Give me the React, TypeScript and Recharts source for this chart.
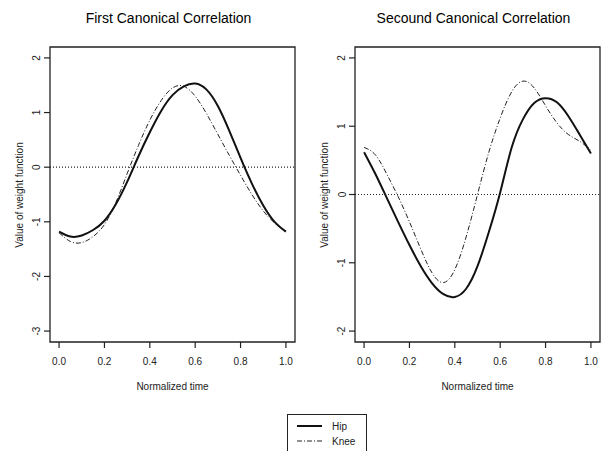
import { LineChart, Line, XAxis, YAxis, ReferenceLine, ReferenceArea, Label } from "recharts"

// normalized time grid and weight functions
const times = [0, 0.05, 0.1, 0.15, 0.2, 0.25, 0.3, 0.35, 0.4, 0.45, 0.5, 0.55, 0.6, 0.65, 0.7, 0.75, 0.8, 0.85, 0.9, 0.95, 1]
const firstHip = [-1.18, -1.27, -1.25, -1.15, -0.98, -0.68, -0.27, 0.2, 0.64, 1.03, 1.32, 1.48, 1.53, 1.42, 1.12, 0.67, 0.17, -0.3, -0.7, -1.0, -1.18]
const firstKnee = [-1.2, -1.36, -1.38, -1.27, -1.05, -0.65, -0.12, 0.4, 0.86, 1.22, 1.45, 1.48, 1.3, 0.98, 0.6, 0.22, -0.15, -0.5, -0.8, -1.02, -1.18]
const secondHip = [0.62, 0.3, -0.05, -0.4, -0.74, -1.05, -1.3, -1.46, -1.5, -1.38, -1.05, -0.55, 0.03, 0.68, 1.1, 1.34, 1.41, 1.35, 1.15, 0.88, 0.6]
const secondKnee = [0.69, 0.58, 0.3, -0.03, -0.4, -0.8, -1.15, -1.29, -1.1, -0.62, 0.0, 0.62, 1.12, 1.5, 1.66, 1.56, 1.3, 1.05, 0.88, 0.78, 0.65]

const xTicks = [0, 0.2, 0.4, 0.6, 0.8, 1]
const firstYTicks = [-3, -2, -1, 0, 1, 2]
const secondYTicks = [-2, -1, 0, 1, 2]
const legendLabels = ["Hip", "Knee"]

const FONT = "'Liberation Sans', Arial, Helvetica, sans-serif"
const KNEE_DASH = "5 2 1 2"

function RotatedTick(props: any) {
  const { x, y, payload } = props
  return (
    <text x={x} y={y} dy="0.35em" transform={`rotate(-90 ${x} ${y})`} textAnchor="middle" fontSize={10} fill="#222" fontFamily={FONT}>
      {payload.value}
    </text>
  )
}

interface PanelProps {
  left: number
  width: number
  title: string
  hip: number[]
  knee: number[]
  yTicks: number[]
  yDomain: [number, number]
}

function Panel({ left, width, title, hip, knee, yTicks, yDomain }: PanelProps) {
  const data = times.map((t, i) => ({ t, hip: hip[i], knee: knee[i] }))
  const plotLeft = 50
  const plotRight = width - 3
  return (
    <div style={{ position: "absolute", left, top: 0, width, height: 451 }}>
      <div
        style={{
          position: "absolute",
          left: plotLeft - 4,
          width: plotRight - plotLeft,
          top: 10,
          textAlign: "center",
          fontFamily: FONT,
          fontSize: 14,
          lineHeight: "16px",
          color: "#000",
        }}
      >
        {title}
      </div>
      <LineChart width={width} height={451} data={data} margin={{ top: 47, right: 3, left: 0, bottom: 59 }}>
        <XAxis
          dataKey="t"
          type="number"
          domain={[-0.04, 1.04]}
          ticks={xTicks}
          tickFormatter={(v: number) => v.toFixed(1)}
          axisLine={false}
          tickSize={6}
          tickMargin={10}
          height={50}
          tick={{ fontSize: 10, fill: "#222", fontFamily: FONT }}
          tickLine={{ stroke: "#222", strokeWidth: 1.2 }}
        >
          <Label
            content={(p: any) => (
              <text x={p.viewBox.x + p.viewBox.width / 2} y={p.viewBox.y + 48} textAnchor="middle" fontSize={10} fill="#222" fontFamily={FONT}>
                Normalized time
              </text>
            )}
          />
        </XAxis>
        <YAxis
          type="number"
          domain={yDomain}
          ticks={yTicks}
          width={50}
          axisLine={false}
          tickSize={6}
          tickMargin={7}
          tick={<RotatedTick />}
          tickLine={{ stroke: "#222", strokeWidth: 1.2 }}
        >
          <Label
            content={() => (
              <text x={19} y={195} dy="0.35em" transform="rotate(-90 19 195)" textAnchor="middle" fontSize={10} fill="#222" fontFamily={FONT}>
                Value of weight function
              </text>
            )}
          />
        </YAxis>
        <ReferenceArea x1={-0.04} x2={1.04} y1={yDomain[0]} y2={yDomain[1]} fill="none" stroke="#222" strokeWidth={1.3} fillOpacity={0} />
        <ReferenceLine y={0} stroke="#222" strokeDasharray="1 2" strokeWidth={1.2} />
        <Line type="natural" dataKey="knee" stroke="#222" strokeWidth={1} strokeDasharray={KNEE_DASH} dot={false} isAnimationActive={false} />
        <Line type="natural" dataKey="hip" stroke="#111" strokeWidth={2} dot={false} isAnimationActive={false} />
      </LineChart>
    </div>
  )
}

function LegendBox() {
  return (
    <svg style={{ position: "absolute", left: 287, top: 414 }} width={81} height={37}>
      <rect x={0.5} y={0.5} width={79} height={40} fill="#fff" stroke="#222" strokeWidth={1} />
      <line x1={10} x2={35} y1={12} y2={12} stroke="#111" strokeWidth={2} />
      <line x1={10} x2={35} y1={27} y2={27} stroke="#222" strokeWidth={1} strokeDasharray={KNEE_DASH} />
      <text x={45} y={12} dy="0.35em" fontSize={10} fill="#222" fontFamily={FONT}>{legendLabels[0]}</text>
      <text x={45} y={27} dy="0.35em" fontSize={10} fill="#222" fontFamily={FONT}>{legendLabels[1]}</text>
    </svg>
  )
}

export default function App() {
  return (
    <div style={{ position: "absolute", left: 0, top: 0, width: 603, height: 451, background: "#fff", overflow: "hidden" }}>
      <Panel left={0} width={298} title="First Canonical Correlation" hip={firstHip} knee={firstKnee} yTicks={firstYTicks} yDomain={[-3.2, 2.2]} />
      <Panel left={305} width={298} title="Secound Canonical Correlation" hip={secondHip} knee={secondKnee} yTicks={secondYTicks} yDomain={[-2.16, 2.16]} />
      <LegendBox />
    </div>
  )
}
